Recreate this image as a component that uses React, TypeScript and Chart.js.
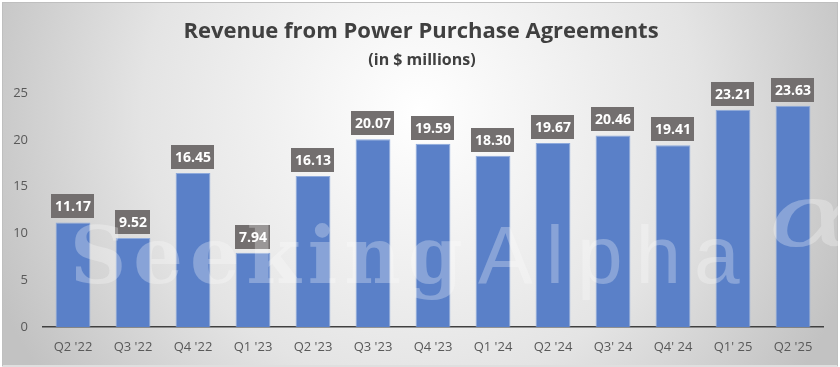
import React, { useEffect, useRef } from "react";
import { Chart, registerables } from "chart.js";

Chart.register(...registerables);

const categories = ["Q2 '22", "Q3 '22", "Q4 '22", "Q1 '23", "Q2 '23", "Q3 '23", "Q4 '23", "Q1 '24", "Q2 '24", "Q3' 24", "Q4' 24", "Q1' 25", "Q2 '25"];
const revenue = [11.17, 9.52, 16.45, 7.94, 16.13, 20.07, 19.59, 18.3, 19.67, 20.46, 19.41, 23.21, 23.63];
const yTicks = [0, 5, 10, 15, 20, 25];
const titleText = "Revenue from Power Purchase Agreements";
const subtitleText = "(in $ millions)";
const watermarkA = "Seeking";
const watermarkB = "Alpha";

const FONT = "'Open Sans', 'Liberation Sans', sans-serif";

const bgPlugin = {
  id: "bg",
  beforeDraw(chart: any) {
    const { ctx, width, height } = chart;
    ctx.save();
    ctx.fillStyle = "#ffffff";
    ctx.fillRect(0, 0, width, height);
    const g = ctx.createRadialGradient(width / 2, height * 0.3, 0, width / 2, height * 0.3, width * 0.55);
    g.addColorStop(0, "#ffffff");
    g.addColorStop(0.6, "#e4e4e4");
    g.addColorStop(1, "#c2c2c2");
    ctx.fillStyle = g;
    ctx.fillRect(3, 3, width - 6, height - 5);
    ctx.strokeStyle = "#bfbfbf";
    ctx.lineWidth = 1;
    ctx.strokeRect(2.5, 2.5, width - 5, height - 3.5);
    // titles
    ctx.fillStyle = "#404040";
    ctx.textAlign = "center";
    ctx.textBaseline = "middle";
    ctx.font = `bold 22px ${FONT}`;
    ctx.fillText(titleText, 421, 32);
    ctx.font = `bold 16px ${FONT}`;
    ctx.fillText(subtitleText, 422, 60);
    ctx.restore();
  },
  afterDatasetsDraw(chart: any) {
    const { ctx } = chart;
    ctx.save();
    // labels
    const meta = chart.getDatasetMeta(0);
    ctx.font = `bold 14px ${FONT}`;
    ctx.textAlign = "center";
    ctx.textBaseline = "middle";
    meta.data.forEach((bar: any, i: number) => {
      const txt = revenue[i].toFixed(2);
      const w = ctx.measureText(txt).width + 7;
      const h = 24;
      const x = bar.x;
      const yBottom = bar.y - 4;
      ctx.fillStyle = "#736f6f";
      ctx.fillRect(Math.round(x - w / 2), Math.round(yBottom - h), Math.round(w), h);
      ctx.fillStyle = "#ffffff";
      ctx.fillText(txt, x, yBottom - h / 2 + 1);
    });
    // watermark
    ctx.fillStyle = "rgba(255,255,255,0.28)";
    ctx.textAlign = "left";
    ctx.textBaseline = "alphabetic";
    ctx.font = `bold 78px 'DejaVu Serif', serif`;
    (ctx as any).letterSpacing = "7px";
    ctx.fillText(watermarkA, 70, 283);
    ctx.font = `82px 'Liberation Sans', sans-serif`;
    (ctx as any).letterSpacing = "13px";
    ctx.fillText(watermarkB, 478, 283);
    (ctx as any).letterSpacing = "0px";
    ctx.save();
    ctx.translate(768, 246);
    ctx.scale(1.5, 1);
    ctx.font = `italic 88px 'DejaVu Serif', serif`;
    ctx.fillText("\u03b1", 0, 0);
    ctx.restore();
    ctx.restore();
  },
};

export default function App() {
  const ref = useRef<HTMLCanvasElement>(null);
  useEffect(() => {
    const chart = new Chart(ref.current!, {
      type: "bar",
      data: {
        labels: categories,
        datasets: [
          {
            data: revenue,
            backgroundColor: "#5a80c8",
            borderColor: "#8eaadc",
            borderWidth: 1,
            barPercentage: 1,
            categoryPercentage: 0.58,
          },
        ],
      },
      options: {
        responsive: false,
        animation: false,
        layout: { padding: { top: 93, right: 17, left: 0, bottom: 0 } },
        plugins: { legend: { display: false }, tooltip: { enabled: false }, title: { display: false } },
        scales: {
          x: {
            grid: { display: false, drawTicks: false },
            border: { display: true, color: "#404040", width: 1.5 },
            ticks: { color: "#595959", font: { family: FONT, size: 13 }, padding: 12, maxRotation: 0, autoSkip: false },
            afterFit: (s: any) => { s.height = 40; },
          },
          y: {
            min: 0,
            max: 25,
            afterBuildTicks: (s: any) => { s.ticks = yTicks.map((v) => ({ value: v })); },
            grid: { display: false, drawTicks: false },
            border: { display: false },
            ticks: { color: "#595959", font: { family: FONT, size: 13 }, padding: 15 },
            afterFit: (s: any) => { s.width = 43; },
          },
        },
      },
      plugins: [bgPlugin],
    });
    return () => chart.destroy();
  }, []);
  return (
    <div style={{ position: "fixed", left: 0, top: 0, width: 840, height: 367 }}>
      <canvas ref={ref} width={840} height={367} style={{ display: "block" }} />
    </div>
  );
}
